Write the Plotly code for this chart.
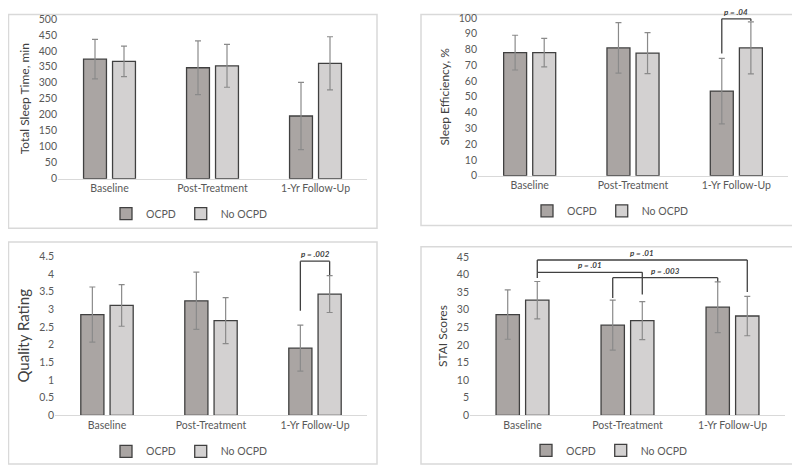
import plotly.graph_objects as go

categories = ["Baseline", "Post-Treatment", "1-Yr Follow-Up"]
groups = ["OCPD", "No OCPD"]

tst_ocpd = [374, 347, 196]
tst_ocpd_err = [62, 84, 105]
tst_no = [367, 353, 361]
tst_no_err = [48, 67, 83]

se_ocpd = [78, 81, 53.6]
se_ocpd_err = [11, 16, 20.7]
se_no = [78, 77.7, 81]
se_no_err = [9, 13, 16.5]

qr_ocpd = [2.85, 3.24, 1.90]
qr_ocpd_err = [0.78, 0.81, 0.65]
qr_no = [3.11, 2.68, 3.43]
qr_no_err = [0.59, 0.65, 0.52]

stai_ocpd = [28.6, 25.6, 30.7]
stai_ocpd_err = [7.0, 7.1, 7.2]
stai_no = [32.7, 26.9, 28.2]
stai_no_err = [5.3, 5.4, 5.6]

# significance brackets: (cat_a, grp_a, cat_b, grp_b, y_top, y_end_a, y_end_b, label)
se_brackets = [(2, 0, 2, 1, 99.4, 77.5, 98.0, "p = .04")]
qr_brackets = [(2, 0, 2, 1, 4.36, 2.96, 3.97, "p = .002")]
stai_brackets = [
    (0, 1, 2, 1, 44.1, 40.6, 35.0, "p = .01"),
    (0, 1, 1, 1, 40.6, 39.0, 34.3, "p = .01"),
    (1, 0, 2, 0, 39.1, 33.3, 38.0, "p = .003"),
]

C_OCPD = "#aaa5a3"
C_NO = "#d3d1d1"
EDGE = "#404040"
TXT = "#595959"
FONT = "Lato"

BARGAP = 0.437
BARGROUPGAP = 0.21

# page has an 8px body margin; figure sized to fit the window
OX, OY = 8, 8
W, H = 792, 464


def px_x(v):
    return (v - OX) / W


def px_y(v):
    return 1 - (v - OY) / H


fig = go.Figure()

panels = [
    dict(ax="", ocpd=tst_ocpd, oe=tst_ocpd_err, no=tst_no, ne=tst_no_err,
         title="Total Sleep Time, min", rng=[0, 500], dtick=50, tsize=12,
         xd=[px_x(58), px_x(367)], yd=[px_y(177), px_y(13)], leg="legend", br=[]),
    dict(ax="2", ocpd=se_ocpd, oe=se_ocpd_err, no=se_no, ne=se_no_err,
         title="Sleep Efficiency, %", rng=[0, 100], dtick=10, tsize=12,
         xd=[px_x(478), px_x(788)], yd=[px_y(174), px_y(12)], leg="legend2", br=se_brackets),
    dict(ax="3", ocpd=qr_ocpd, oe=qr_ocpd_err, no=qr_no, ne=qr_no_err,
         title="Quality Rating", rng=[0, 4.5], dtick=0.5, tsize=15,
         xd=[px_x(55), px_x(367)], yd=[px_y(420), px_y(256.7)], leg="legend3", br=qr_brackets),
    dict(ax="4", ocpd=stai_ocpd, oe=stai_ocpd_err, no=stai_no, ne=stai_no_err,
         title="STAI Scores", rng=[0, 45], dtick=5, tsize=12,
         xd=[px_x(470), px_x(785)], yd=[px_y(420), px_y(257.3)], leg="legend4", br=stai_brackets),
]

shapes = []
annotations = []
slot = (1 - BARGAP) / 2

for p in panels:
    xa = "x" + p["ax"]
    ya = "y" + p["ax"]
    for name, vals, errs, col in [("OCPD", p["ocpd"], p["oe"], C_OCPD),
                                  ("No OCPD", p["no"], p["ne"], C_NO)]:
        fig.add_trace(go.Bar(
            x=categories, y=vals, name=name, xaxis=xa, yaxis=ya,
            marker=dict(color=col, line=dict(color=EDGE, width=1.3)),
            error_y=dict(type="data", array=errs, color="#8a8a8a", thickness=1.2, width=3),
            legend=p["leg"],
        ))
    key = p["ax"]
    fig.update_layout(**{
        "xaxis" + key: dict(domain=p["xd"], anchor=ya, showline=True, linecolor="#d9d9d9",
                            linewidth=1, ticks="", tickfont=dict(size=10.5, color=TXT, family=FONT),
                            showgrid=False, fixedrange=True),
        "yaxis" + key: dict(domain=p["yd"], anchor=xa, range=p["rng"], dtick=p["dtick"],
                            showgrid=False, showline=False, zeroline=False, ticks="",
                            tickfont=dict(size=10.5, color=TXT, family=FONT),
                            title=dict(text=p["title"], font=dict(size=p["tsize"], color="#404040", family=FONT),
                                       standoff=6)),
    })
    for (ca, ga, cb, gb, yt, ya_end, yb_end, lab) in p["br"]:
        xa_pos = ca + (ga - 0.5) * slot
        xb_pos = cb + (gb - 0.5) * slot
        for (x0, y0, x1, y1) in [(xa_pos, ya_end, xa_pos, yt), (xa_pos, yt, xb_pos, yt), (xb_pos, yt, xb_pos, yb_end)]:
            shapes.append(dict(type="line", xref=xa, yref=ya, x0=x0, y0=y0, x1=x1, y1=y1,
                               line=dict(color="#404040", width=1.3)))
        annotations.append(dict(xref=xa, yref=ya, x=(xa_pos + xb_pos) / 2, y=yt, text="<i><b>" + lab + "</b></i>",
                                showarrow=False, yanchor="bottom", yshift=0,
                                font=dict(size=8, color="#404040", family=FONT)))

# panel frames in page px (left, top, right, bottom)
frames = [(3, 2, 377, 228), (421, 1, 793, 225), (1, 242, 377, 470), (421, 247, 795, 470)]
for (l, t, r, b) in frames:
    shapes.append(dict(type="rect", xref="paper", yref="paper", x0=px_x(max(l, OX + 0.5)), x1=px_x(r),
                       y0=px_y(b), y1=px_y(max(t, OY + 0.5)), line=dict(color="#d9d9d9", width=1.5),
                       layer="below"))

leg_common = dict(orientation="h", xanchor="center", yanchor="middle", itemwidth=30,
                  font=dict(size=10.5, color=TXT, family=FONT), bgcolor="rgba(0,0,0,0)",
                  itemclick=False, itemdoubleclick=False, tracegroupgap=0)
fig.update_layout(
    legend=dict(x=px_x(189), y=px_y(213), **leg_common),
    legend2=dict(x=px_x(610), y=px_y(210), **leg_common),
    legend3=dict(x=px_x(189), y=px_y(457), **leg_common),
    legend4=dict(x=px_x(609), y=px_y(456), **leg_common),
)

fig.update_layout(
    width=W, height=H, margin=dict(l=0, r=0, t=0, b=0),
    paper_bgcolor="white", plot_bgcolor="white",
    barmode="group", bargap=BARGAP, bargroupgap=BARGROUPGAP,
    font=dict(family=FONT, color=TXT),
    shapes=shapes, annotations=annotations, showlegend=True,
)

fig.write_html("out.html")
